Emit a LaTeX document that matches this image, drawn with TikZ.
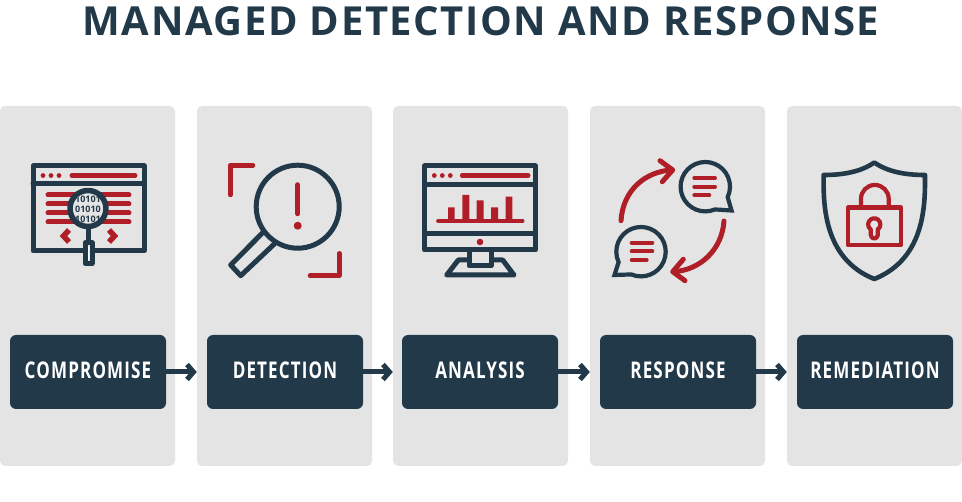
\documentclass[tikz,border=0pt]{standalone}
\usepackage{fontspec}
\setmainfont{Open Sans}
\newfontfamily\titlefont[LetterSpace=4]{Open Sans Bold}
\newfontfamily\labelfont[FakeStretch=0.74,LetterSpace=5]{Open Sans Bold}
\newfontfamily\bitsfont{Open Sans Bold}
\usetikzlibrary{arrows.meta,positioning}
\definecolor{navy}{HTML}{22394A}
\definecolor{crimson}{HTML}{B01E27}
\definecolor{panelgrey}{HTML}{E4E4E4}
\tikzset{
  panelbox/.style={fill=panelgrey, rounded corners=5pt, minimum width=175pt, minimum height=360pt, inner sep=0pt},
  stagebox/.style={fill=navy, rounded corners=6pt, minimum width=156pt, minimum height=74pt, inner sep=0pt, text=white, text height=16pt, text depth=3pt, font=\labelfont\fontsize{23}{23}\selectfont},
  flowarrow/.style={-{Straight Barb[length=6.5pt,width=15pt,line width=5pt]}, navy, line width=5pt},
  navyline/.style={navy, line width=5pt, line join=round, line cap=round},
  redline/.style={crimson, line width=5pt, line join=round, line cap=round},
  reddot/.style={fill=crimson, draw=none},
  bitstext/.style={font=\bitsfont\fontsize{9}{9}\selectfont, text=navy, inner sep=0pt},
}
\begin{document}
\begin{tikzpicture}[x=1pt,y=-1pt]
    \useasboundingbox (0,0) rectangle (962,502);
    \node[font=\titlefont\fontsize{40}{40}\selectfont, text=navy] (title) at (481,21) {MANAGED DETECTION AND RESPONSE};
    % panels
    \node[panelbox] (panelA) at (87.5,286) {};
    \node[panelbox] (panelB) at (284.5,286) {};
    \node[panelbox] (panelC) at (480.5,286) {};
    \node[panelbox] (panelD) at (677.5,286) {};
    \node[panelbox] (panelE) at (874.5,286) {};
    % stages
    \node[stagebox] (compromise) at (88,372) {COMPROMISE};
    \node[stagebox] (detection) at (285,372) {DETECTION};
    \node[stagebox] (analysis) at (480,372) {ANALYSIS};
    \node[stagebox] (response) at (678,372) {RESPONSE};
    \node[stagebox] (remediation) at (875,372) {REMEDIATION};
    \draw[flowarrow] (compromise.east) -- (compromise.east -| panelB.west);
    \draw[flowarrow] (detection.east) -- (detection.east -| panelC.west);
    \draw[flowarrow] (analysis.east) -- (analysis.east -| panelD.west);
    \draw[flowarrow] (response.east) -- (response.east -| panelE.west);
    % compromise icon
    \draw[navyline] (33,166) rectangle (144,251) (33,184) -- (144,184);
    \foreach \x in {43,51,59} \fill[reddot] (\x,175.5) circle (2.4pt);
    \draw[redline] (72,175.5) -- (135,175.5);
    \foreach \y in {195,204,213,222} \draw[redline] (48,\y) -- (129,\y);
    \draw[redline, line width=5.5pt, line cap=butt, line join=miter] (69,230) -- (63.5,236) -- (69,242) (109,230) -- (114.5,236) -- (109,242);
    \draw[navyline, fill=panelgrey] (85,243) rectangle (92,263.5);
    \draw[navy, line width=5pt] (88,226) -- (88,243);
    \draw[white, line width=1pt] (88.5,247) -- (88.5,260);
    \draw[navyline, line width=5.5pt, fill=panelgrey] (88,208.5) circle (18pt);
    \begin{scope}
      \clip (88,208.5) circle (15.5pt);
      \node[bitstext] (bitsA) at (88,199) {10101};
      \node[bitstext] (bitsB) at (88,209) {01010};
      \node[bitstext] (bitsC) at (88,219) {10101};
    \end{scope}
    % detection icon
    \draw[navyline] (297.7,206.7) circle (41.5pt);
    \draw[navyline] (262.7,232.7) -- (230.7,265) -- (240.7,275.7) -- (274,244.3);
    \draw[redline, line width=5.5pt] (297.7,185) -- (297.7,213.5);
    \fill[reddot] (297.7,225.7) circle (4pt);
    \draw[redline, line width=4.5pt] (253,165.3) -- (230.3,165.3) -- (230.3,195);
    \draw[redline, line width=4.5pt] (339.3,253.3) -- (339.3,275.7) -- (310,275.7);
    % analysis icon
    \draw[navyline] (424.5,166) rectangle (535.5,250) (424.5,184.3) -- (535.5,184.3) (424.5,233.7) -- (535.5,233.7);
    \foreach \x in {434.3,442.3,450.3} \fill[reddot] (\x,175.5) circle (2.4pt);
    \draw[redline] (462.3,175.5) -- (528,175.5);
    \draw[redline, line width=4.5pt] (438.3,221) -- (522.3,221);
    \fill[crimson] (448,207.3) rectangle (454.7,221) (462.3,195) rectangle (469.3,221) (476.7,200.3) rectangle (483.7,221) (491,207.3) rectangle (498,221) (505.7,196.7) rectangle (512.3,221);
    \fill[reddot] (480,242) circle (3.3pt);
    \draw[navyline] (469,252) -- (469,266) -- (491,266) -- (491,252);
    \draw[navyline] (468.3,260) -- (458.3,260) -- (446.7,275) -- (514,275) -- (502.7,260) -- (491.7,260);
    % response icon
    \coordinate (bubbleA) at (705.3,186.7);
    \coordinate (bubbleB) at (641,251.7);
    \draw[navy, line width=4.2pt, line join=miter] (bubbleA) ++(-67:24.7pt) arc[start angle=-67, end angle=-385, radius=24.7pt] -- (731.5,210.5) -- cycle;
    \draw[navy, line width=4.2pt, line join=miter] (bubbleB) ++(-113:24.7pt) arc[start angle=-113, end angle=205, radius=24.7pt] -- (614.5,275) -- cycle;
    \draw[redline, line width=4pt] (694.3,178) -- (715,178) (694.3,186.7) -- (715,186.7) (694.3,195.3) -- (709.3,195.3);
    \draw[redline, line width=4pt] (631.7,242.7) -- (652.3,242.7) (631.7,251.3) -- (652.3,251.3) (631.7,260) -- (646.7,260);
    \draw[redline] (621,220.7) .. controls (623,190) and (645,172) .. (671,170);
    \draw[redline] (660,160.7) -- (672.7,170) -- (662.3,181.7);
    \draw[redline] (724,221) .. controls (722,250) and (700,270) .. (674,271.7);
    \draw[redline] (683.3,259.3) -- (672.7,271.7) -- (685,280.7);
    % remediation icon
    \draw[navy, line width=4.6pt, line join=round] (874.3,162.5) .. controls (888,172) and (906,175) .. (925,175) .. controls (925,200) and (927,258) .. (874.3,279) .. controls (821.6,258) and (823.6,200) .. (823.6,175) .. controls (842.6,175) and (860.6,172) .. cycle;
    \draw[crimson, line width=4.2pt, line join=round] (848,207.5) rectangle (901,245);
    \draw[crimson, line width=4.2pt] (861,207.5) -- (861,198.8) arc[start angle=180, end angle=0, radius=13.85pt] -- (888.7,207.5);
    \draw[crimson, line width=4.2pt, line join=round] (870.8,229.4) arc[start angle=235, end angle=-55, radius=6.1pt] -- (877.8,235) arc[start angle=0, end angle=-180, radius=3.5pt] -- cycle;
\end{tikzpicture}
\end{document}
